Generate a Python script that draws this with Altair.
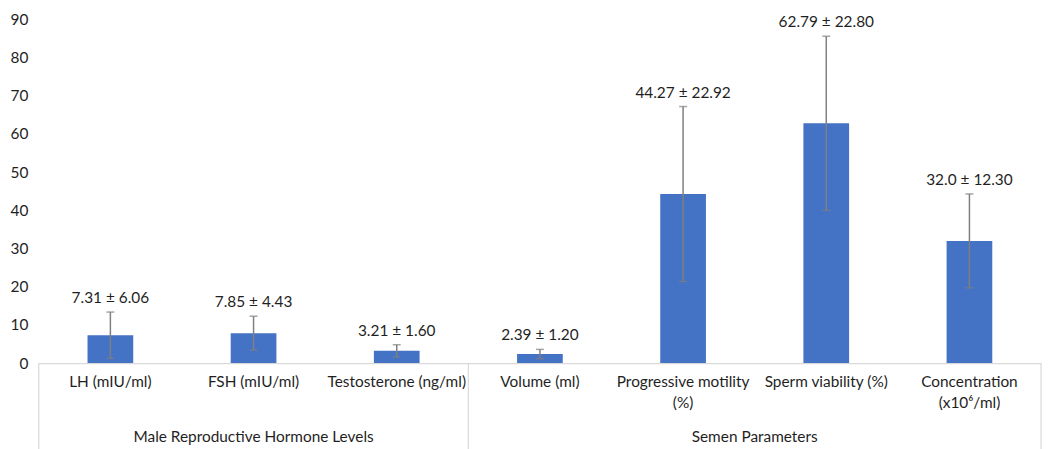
import altair as alt
import pandas as pd

categories = ["LH (mIU/ml)", "FSH (mIU/ml)", "Testosterone (ng/ml)", "Volume (ml)",
              "Progressive motility|(%)", "Sperm viability (%)", "Concentration|(x10\u2076/ml)"]
means = [7.31, 7.85, 3.21, 2.39, 44.27, 62.79, 32.0]
sds = [6.06, 4.43, 1.60, 1.20, 22.92, 22.80, 12.30]
value_labels = ["7.31 \u00b1 6.06", "7.85 \u00b1 4.43", "3.21 \u00b1 1.60", "2.39 \u00b1 1.20",
                "44.27 \u00b1 22.92", "62.79 \u00b1 22.80", "32.0 \u00b1 12.30"]
y_ticks = [0, 10, 20, 30, 40, 50, 60, 70, 80, 90]
groups = ["Male Reproductive Hormone Levels", "Semen Parameters"]
group_centers = [1.5, 5.0]
group_bounds = [0, 3, 7]

FONT = "Lato"
TXT = "#1f1f1f"
FS = 15.5
W, H = 1009, 346

df = pd.DataFrame({"cat": categories, "mean": means, "sd": sds, "label": value_labels})
df["lo"] = df["mean"] - df["sd"]
df["hi"] = df["mean"] + df["sd"]

xaxis = alt.Axis(labelAngle=0, labelExpr="split(datum.label, '|')",
                 labelFont=FONT, labelFontSize=FS, labelColor=TXT,
                 labelPadding=12, labelLineHeight=21, ticks=False,
                 domainColor="#d9d9d9", domainWidth=1.2, labelBaseline="top")
xscale = alt.Scale(paddingInner=0, paddingOuter=0)
yaxis = alt.Axis(values=y_ticks, grid=False, domain=False, ticks=False,
                 labelOverlap=False, labelFont=FONT, labelFontSize=FS,
                 labelColor=TXT, labelPadding=11)
yscale = alt.Scale(domain=[0, 90], nice=False)


def X():
    return alt.X("cat:N", sort=categories, title=None, scale=xscale, axis=xaxis)


def Y(f):
    return alt.Y(f, scale=yscale, title=None, axis=yaxis)


base = alt.Chart(df)
bars = base.mark_bar(color="#4472C4", size=46).encode(x=X(), y=Y("mean:Q"))
err = base.mark_rule(color="#7f7f7f", strokeWidth=1.5).encode(x=X(), y=Y("lo:Q"), y2="hi:Q")
cap_hi = base.mark_tick(color="#7f7f7f", size=8, thickness=1.5, orient="horizontal").encode(
    x=X(), y=Y("hi:Q"))
cap_lo = base.mark_tick(color="#7f7f7f", size=8, thickness=1.5, orient="horizontal").encode(
    x=X(), y=Y("lo:Q"))
txt = base.mark_text(font=FONT, fontSize=FS, color=TXT, baseline="bottom", dy=-6).encode(
    x=X(), y=Y("hi:Q"), text="label:N")

main = alt.layer(bars, err, cap_hi, cap_lo, txt)

gdf = pd.DataFrame({"g": groups, "c": group_centers})
bdf = pd.DataFrame({"b": group_bounds})
gx = alt.Scale(domain=[0, 7], nice=False, zero=False)
seps = alt.Chart(bdf).mark_rule(color="#d9d9d9", strokeWidth=1.2).encode(
    x=alt.X("b:Q", scale=gx, axis=None), y=alt.value(H), y2=alt.value(H + 90))
gtext = alt.Chart(gdf).mark_text(font=FONT, fontSize=FS, color=TXT, baseline="middle").encode(
    x=alt.X("c:Q", scale=gx, axis=None), y=alt.value(H + 74), text="g:N")
grp = alt.layer(seps, gtext)

chart = alt.layer(main, grp).resolve_scale(x="independent").properties(
    width=W, height=H, autosize="none", background="white",
    padding={"left": 31, "top": 10, "right": 4, "bottom": 90}
).configure_view(stroke=None).configure_axisY(labelOverlap=False)

chart.save("out.html", embed_options={"renderer": "svg", "actions": False})
